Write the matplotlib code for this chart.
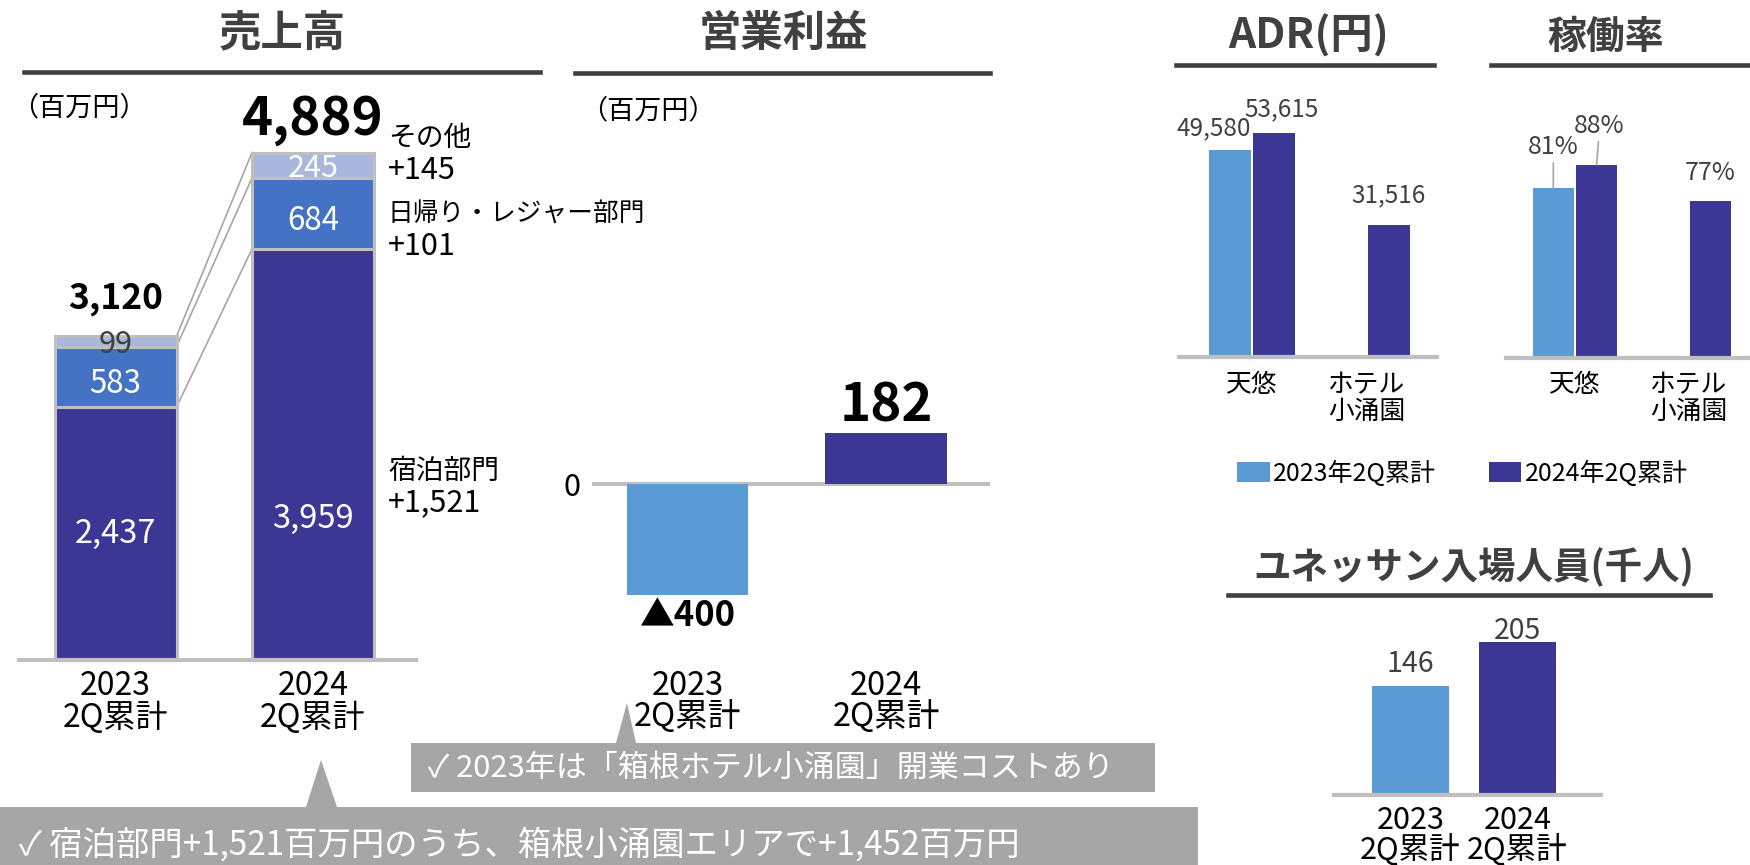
import matplotlib
matplotlib.use("Agg")
import matplotlib.pyplot as plt
import numpy as np
from matplotlib.lines import Line2D
from matplotlib.patches import Polygon

plt.rcParams["font.family"] = ["Noto Sans CJK JP", "DejaVu Sans"]

# ---- data ----
periods = ["2023\n2Q累計", "2024\n2Q累計"]
stay = [2437, 3959]
daytrip = [583, 684]
other = [99, 245]
sales_total = [3120, 4889]
seg_names = ["宿泊部門", "日帰り・レジャー部門", "その他"]
seg_diffs = ["+1,521", "+101", "+145"]

op_income = [-400, 182]
op_text = ["▲400", "182"]

hotels = ["天悠", "ホテル\n小涌園"]
adr_2023 = [49580, np.nan]
adr_2024 = [53615, 31516]
occ_2023 = [81, np.nan]
occ_2024 = [88, 77]
series = ["2023年2Q累計", "2024年2Q累計"]

visitors = [146, 205]

notes = [
    "✓ 2023年は「箱根ホテル小涌園」開業コストあり",
    "✓ 宿泊部門+1,521百万円のうち、箱根小涌園エリアで+1,452百万円",
]

NAVY = "#3C3795"
BLUE = "#4472C4"
LAVENDER = "#A9B7DE"
SKY = "#5B9BD5"
GRID = "#BFBFBF"
DARK = "#404040"
NOTE_BG = "#A6A6A6"

W, H = 1750, 865
fig = plt.figure(figsize=(W / 100, H / 100), dpi=100)


def fx(x):
    return x / W


def fy(y):
    return 1 - y / H


def panel(left, top, right, bottom):
    ax = fig.add_axes([fx(left), fy(bottom), (right - left) / W, (bottom - top) / H])
    for s in ax.spines.values():
        s.set_visible(False)
    ax.tick_params(length=0)
    ax.set_yticks([])
    ax.patch.set_alpha(0)
    return ax


def baseline(ax):
    ax.spines["bottom"].set_visible(True)
    ax.spines["bottom"].set_color(GRID)
    ax.spines["bottom"].set_linewidth(3)


def header(text, cx, cy, x0, x1, ly, size):
    fig.text(fx(cx), fy(cy), text, ha="center", va="center",
             fontsize=size, fontweight="bold", color=DARK)
    fig.add_artist(Line2D([fx(x0), fx(x1)], [fy(ly), fy(ly)],
                          color=DARK, lw=3.3, transform=fig.transFigure))


def label(ax, x, y, text, dx=0, dy=0, **kw):
    kw.setdefault("ha", "center")
    ax.annotate(text, (x, y), xytext=(dx, dy), textcoords="offset pixels",
                va="center", annotation_clip=False, **kw)


# ---- 売上高 ----
header("売上高", 282, 34, 24, 540, 72, 30.5)
fig.text(fx(11), fy(108), "（百万円）", ha="left", va="center", fontsize=19.5)

ax = panel(19, 100, 416, 660)
x = np.arange(2)
w = 0.618
bar_kw = dict(width=w, edgecolor=GRID, linewidth=2.2, zorder=2)
lvl1 = np.array(stay)
lvl2 = lvl1 + np.array(daytrip)
lvl3 = lvl2 + np.array(other)
ax.bar(x, stay, color=NAVY, **bar_kw)
ax.bar(x, daytrip, bottom=lvl1, color=BLUE, **bar_kw)
ax.bar(x, other, bottom=lvl2, color=LAVENDER, **bar_kw)
for lv in (lvl1, lvl2, lvl3):
    ax.plot([x[0] + w / 2, x[1] - w / 2], lv, color="#A6A6A6", lw=1.2, zorder=1)

for i in x:
    label(ax, i, stay[i] / 2, f"{stay[i]:,}", dy=(0 if i == 0 else -64),
          color="white", fontsize=23.5)
    label(ax, i, lvl1[i] + daytrip[i] / 2, f"{daytrip[i]:,}", dy=-7,
          color="white", fontsize=22.5)
    label(ax, i, lvl2[i] + other[i] / 2, f"{other[i]:,}", dy=-3,
          color=(DARK if i == 0 else "white"), fontsize=22)
    label(ax, i, lvl3[i], f"{sales_total[i]:,}", dy=(38 if i == 0 else 33),
          fontweight="bold", fontsize=(25.5 if i == 0 else 38))

seg_mid = [stay[1] / 2, lvl1[1] + daytrip[1] / 2, lvl2[1] + other[1] / 2]
seg_shift = [-32, -17, 11]
for mid, shift, name, diff in zip(seg_mid, seg_shift, seg_names, seg_diffs):
    label(ax, 1 + w / 2, mid, name, dx=14, dy=shift + 16, ha="left",
          fontsize=(18.5 if len(name) > 6 else 20))
    label(ax, 1 + w / 2, mid, diff, dx=14, dy=shift - 16, ha="left", fontsize=22)

ax.set_xlim(-0.489, 1.522)
ax.set_ylim(0, (660 - 100) / 0.1038)
baseline(ax)
ax.set_xticks(x, periods, fontsize=23, linespacing=0.98)
ax.tick_params(axis="x", pad=7)

# ---- 営業利益 ----
header("営業利益", 783, 34, 575, 990, 73, 30.5)
fig.text(fx(580), fy(111), "（百万円）", ha="left", va="center", fontsize=19.5)

ax2 = panel(592, 380, 990, 660)
ax2.bar(x, op_income, 0.61, color=[SKY, NAVY], zorder=2)
ax2.axhline(0, color=GRID, lw=3, zorder=1)
for i, (v, t) in enumerate(zip(op_income, op_text)):
    if v < 0:
        label(ax2, i, v, t, dy=-20, fontsize=25, fontweight="bold")
    else:
        label(ax2, i, v, t, dy=27, fontsize=38, fontweight="bold")
ax2.set_xlim(-0.481, 1.524)
ax2.set_ylim(-(660 - 484) / 0.278, (484 - 380) / 0.278)
ax2.set_yticks([0], ["0"], fontsize=22)
ax2.tick_params(axis="y", pad=8)
ax2.set_xticks(x, periods, fontsize=23.5, linespacing=0.92)
ax2.tick_params(axis="x", pad=7)

# ---- ADR ----
header("ADR(円)", 1309, 36, 1176, 1434, 65, 30.5)
ax3 = panel(1179, 90, 1437, 357)
gx = np.arange(len(hotels))
bw, off = 0.365, 0.19
b23 = ax3.bar(gx - off, adr_2023, bw, color=SKY)
b24 = ax3.bar(gx + off, adr_2024, bw, color=NAVY)
adr_offsets = {(0, 0): (-16, 22), (0, 1): (8, 24), (1, 1): (0, 30)}
for s, vals in enumerate((adr_2023, adr_2024)):
    for g, v in enumerate(vals):
        if np.isnan(v):
            continue
        dx, dy = adr_offsets[(g, s)]
        label(ax3, g + (off if s else -off), v, f"{v:,.0f}", dx=dx, dy=dy,
              fontsize=17.5, color=DARK)
ax3.set_xlim(-0.635, 1.609)
ax3.set_ylim(0, 267 / 0.004178)
baseline(ax3)
ax3.set_xticks(gx, hotels, fontsize=18.5, linespacing=1.05)
ax3.tick_params(axis="x", pad=11)

fig.legend([b23, b24], series, loc="center left",
           bbox_to_anchor=(fx(1237), fy(474)), ncol=2, frameon=False,
           fontsize=18, handlelength=1.3, handleheight=0.85,
           handletextpad=0.15, columnspacing=2.1, borderpad=0,
           borderaxespad=0)

# ---- 稼働率 ----
header("稼働率", 1606, 37, 1491, 1750, 65, 28)
ax4 = panel(1506, 90, 1750, 358)
ax4.bar(gx - off, occ_2023, bw, color=SKY)
ax4.bar(gx + off, occ_2024, bw, color=NAVY)
occ_offsets = {(0, 0): (0, 41, True), (0, 1): (3, 39, True), (1, 1): (0, 28, False)}
for s, vals in enumerate((occ_2023, occ_2024)):
    for g, v in enumerate(vals):
        if np.isnan(v):
            continue
        dx, dy, leader = occ_offsets[(g, s)]
        arrow = dict(arrowstyle="-", color="#A6A6A6", lw=1.2,
                     shrinkA=0, shrinkB=0) if leader else None
        ax4.annotate(f"{v:.0f}%", (g + (off if s else -off), v), xytext=(dx, dy),
                     textcoords="offset pixels", ha="center", va="center",
                     fontsize=18, color=DARK, arrowprops=arrow,
                     annotation_clip=False)
ax4.set_xlim(-0.605, 1.535)
ax4.set_ylim(30, 30 + 268 / 3.33)
baseline(ax4)
ax4.set_xticks(gx, hotels, fontsize=18.5, linespacing=1.05)
ax4.tick_params(axis="x", pad=10)

# ---- ユネッサン入場人員 ----
header("ユネッサン入場人員(千人)", 1474, 567, 1228, 1710, 595, 27)
ax5 = panel(1334, 600, 1601, 795)
ax5.bar(x, visitors, 0.72, color=[SKY, NAVY])
for i, v in enumerate(visitors):
    label(ax5, i, v, f"{v}", dy=(22 if i == 0 else 11), fontsize=20.5, color=DARK)
ax5.set_xlim(-0.715, 1.78)
ax5.set_ylim(0, 195 / 0.746)
baseline(ax5)
ax5.set_xticks(x, periods, fontsize=22, linespacing=0.9)
ax5.tick_params(axis="x", pad=7)


# ---- callouts ----
def callout(rect, tip, text, tx, ty, size):
    x0, y0, x1, y1 = rect
    b0, b1, (px, py) = tip
    pts = [(x0, y0), (b0, y0), (px, py), (b1, y0), (x1, y0), (x1, y1), (x0, y1)]
    fig.add_artist(Polygon([(fx(a), fy(b)) for a, b in pts], closed=True,
                           transform=fig.transFigure, facecolor=NOTE_BG,
                           edgecolor="none"))
    fig.text(fx(tx), fy(ty), text, color="white", fontsize=size,
             ha="left", va="center")


callout((411, 743, 1155, 792), (616, 636, (627, 703)), notes[0], 428, 768, 22.3)
callout((0, 807, 1198, 866), (306, 337, (321, 760)), notes[1], 19, 845, 24)

fig.savefig("out.png", dpi=100)
